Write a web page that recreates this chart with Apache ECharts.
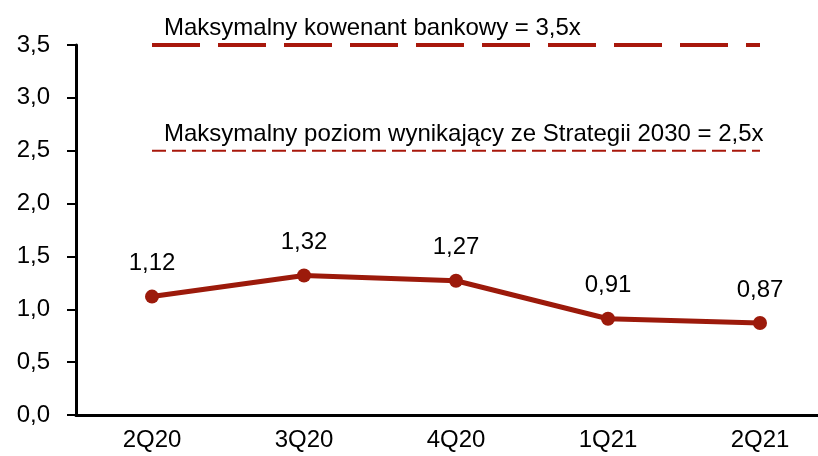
<!DOCTYPE html>
<html>
<head>
<meta charset="utf-8">
<script src="https://cdn.jsdelivr.net/npm/echarts@6/dist/echarts.min.js"></script>
<style>
  html, body { margin: 0; padding: 0; background: #fff; }
  #chart { width: 818px; height: 456px; }
</style>
</head>
<body>
<div id="chart"></div>
<script>
// Quarters on the x axis
const quarters = ['2Q20', '3Q20', '4Q20', '1Q21', '2Q21'];
// Net debt / EBITDA ratio per quarter
const leverage = [1.12, 1.32, 1.27, 0.91, 0.87];
// Ceilings drawn as dashed reference lines
const covenantLimit = 3.5;
const strategyLimit = 2.5;
const covenantText = 'Maksymalny kowenant bankowy = 3,5x';
const strategyText = 'Maksymalny poziom wynikający ze Strategii 2030 = 2,5x';
// Value axis range
const yMin = 0, yMax = 3.5, yStep = 0.5;

// Prefer a narrow sans face when one is installed, otherwise regular Liberation Sans
function hasFont(name) {
  const ctx = document.createElement('canvas').getContext('2d');
  const probe = 'Maksymalny 2Q20 3,5';
  ctx.font = '40px monospace';
  const base = ctx.measureText(probe).width;
  ctx.font = '40px "' + name + '", monospace';
  return Math.abs(ctx.measureText(probe).width - base) > 0.5;
}
const narrow = hasFont('Liberation Sans Narrow');
const FONT = narrow ? '"Liberation Sans Narrow", sans-serif' : '"Liberation Sans", Arial, sans-serif';
const FS = narrow ? 27 : 24;

const RED = '#9c1a0b';
const comma = (v, d) => v.toFixed(d).replace('.', ',');

// Reference line series: constant value across all quarters, caption on first point
function limitSeries(value, text, width, dash) {
  return {
    type: 'line',
    data: quarters.map((q, i) => i === 0 ? {
      value: value,
      label: {
        show: true, position: 'top', align: 'left', distance: 4,
        offset: [12, 0],
        formatter: text,
        fontFamily: FONT, fontSize: FS, color: '#000'
      }
    } : value),
    symbol: 'circle',
    symbolSize: 1,
    showSymbol: true,
    itemStyle: { color: 'rgba(0,0,0,0)' },
    silent: true,
    z: 1,
    lineStyle: { color: '#a8180c', width: width, type: dash },
    emphasis: { disabled: true }
  };
}

const chart = echarts.init(document.getElementById('chart'), null, { renderer: 'canvas' });
chart.setOption({
  animation: false,
  backgroundColor: '#fff',
  // the last category band runs past the right edge of the canvas
  grid: { left: 76, right: -18, top: 45, bottom: 41, containLabel: false, outerBoundsMode: 'none' },
  xAxis: {
    type: 'category',
    data: quarters,
    boundaryGap: true,
    axisLine: { lineStyle: { color: '#000', width: 3 } },
    axisTick: { show: false },
    axisLabel: { fontFamily: FONT, fontSize: FS, color: '#000', margin: 13 },
    splitLine: { show: false }
  },
  yAxis: {
    type: 'value',
    min: yMin, max: yMax, interval: yStep,
    axisLine: { show: true, lineStyle: { color: '#000', width: 3 } },
    axisTick: { show: true, inside: false, length: 9, lineStyle: { color: '#000', width: 2 } },
    axisLabel: { fontFamily: FONT, fontSize: FS, color: '#000', margin: 26,
                 formatter: v => comma(v, 1) },
    splitLine: { show: false }
  },
  series: [
    limitSeries(covenantLimit, covenantText, 4, [48, 18]),
    limitSeries(strategyLimit, strategyText, 2, [14, 6]),
    {
      type: 'line',
      data: leverage,
      z: 3,
      symbol: 'circle',
      symbolSize: 14,
      lineStyle: { color: RED, width: 5 },
      itemStyle: { color: RED },
      label: {
        show: true, position: 'top', distance: 14,
        fontFamily: FONT, fontSize: FS, color: '#000',
        formatter: p => comma(p.value, 2)
      }
    }
  ]
});
</script>
</body>
</html>
